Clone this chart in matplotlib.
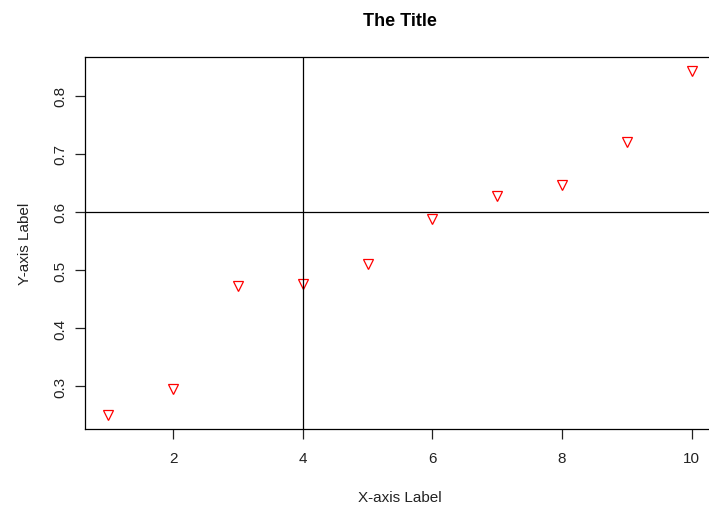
import matplotlib.pyplot as plt
import numpy as np

plt.rcParams["font.family"] = ["Liberation Sans", "DejaVu Sans"]

x = np.arange(1, 11)
y = [0.250, 0.295, 0.472, 0.476, 0.511, 0.588, 0.628, 0.647, 0.721, 0.843]
vline_x = 4
hline_y = 0.6

fig = plt.figure(figsize=(7.09, 5.06), dpi=100)
W, H = 709, 506
left, right, top, bottom = 85, 715, 58, 430
ax = fig.add_axes([left / W, 1 - bottom / H, (right - left) / W, (bottom - top) / H])

ax.plot(x, y, linestyle="none", marker="v", markersize=7.5, fillstyle="none",
        markeredgecolor="#ff0000", markeredgewidth=0.9)
ax.axvline(vline_x, color="black", linewidth=0.9)
ax.axhline(hline_y, color="black", linewidth=0.9)

pad_x = 0.04 * (x.max() - x.min())
pad_y = 0.04 * (max(y) - min(y))
ax.set_xlim(x.min() - pad_x, x.max() + pad_x)
ax.set_ylim(min(y) - pad_y, max(y) + pad_y)

ax.set_xticks([2, 4, 6, 8, 10])
ax.set_yticks([0.3, 0.4, 0.5, 0.6, 0.7, 0.8])
ax.set_yticklabels(["0.3", "0.4", "0.5", "0.6", "0.7", "0.8"], rotation=90, va="center")
ax.tick_params(direction="out", length=7, width=0.9, labelsize=11, colors="#222222")
ax.tick_params(axis="x", pad=9)
ax.tick_params(axis="y", pad=6)
for s in ax.spines.values():
    s.set_linewidth(0.9)

ax.set_xlabel("X-axis Label", fontsize=11, labelpad=18, color="#222222")
ax.set_ylabel("Y-axis Label", fontsize=11, labelpad=15, color="#222222")
fig.text((left + right) / 2 / W, 1 - 20 / H, "The Title", ha="center", va="center_baseline",
         fontsize=13, fontweight="bold")

fig.savefig("out.png", dpi=100)
